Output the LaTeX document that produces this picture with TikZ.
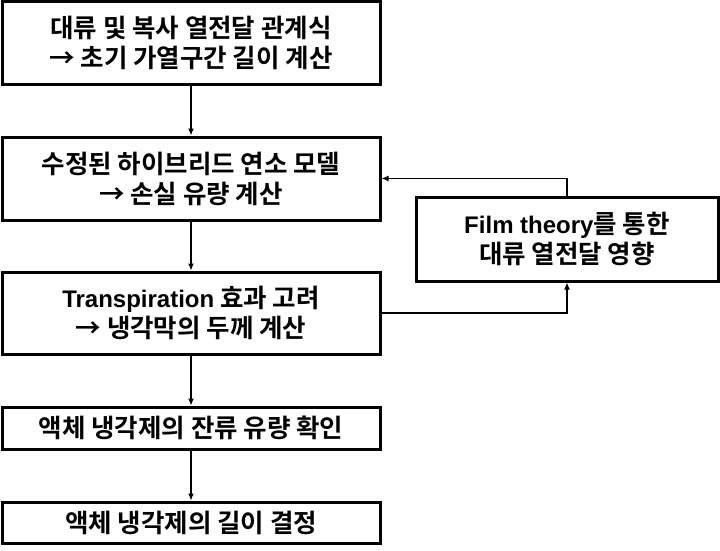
\documentclass[tikz,border=0pt]{standalone}
\usepackage{fontspec}
\setmainfont{Liberation Sans}
\newfontfamily\kr{Noto Sans CJK KR}[BoldFont=* Bold]
\newcommand{\lat}[1]{{\fontspec{Liberation Sans}\fontsize{24}{30}\selectfont\bfseries #1}}
\usetikzlibrary{arrows.meta,positioning}

\begin{document}
\begin{tikzpicture}[x=1pt,y=-1pt,
  procbox/.style={draw, line width=3pt, minimum width=378pt, align=center, inner sep=0pt,
    font=\fontsize{25.5}{30}\selectfont\bfseries\kr},
  flow/.style={-{Latex[length=7pt,width=6pt]}, line width=1.1pt}]
\useasboundingbox (0,0) rectangle (720,551);

\node[procbox, minimum height=82pt] (heat) at (191,43) {대류 및 복사 열전달 관계식\\→ 초기 가열구간 길이 계산};
\node[procbox, minimum height=83pt] (hybrid) at (191,178.5) {수정된 하이브리드 연소 모델\\→ 손실 유량 계산};
\node[procbox, minimum height=82pt] (transp) at (191,313) {\lat{Transpiration} 효과 고려\\→ 냉각막의 두께 계산};
\node[procbox, minimum height=42pt] (resid) at (191,428) {액체 냉각제의 잔류 유량 확인};
\node[procbox, minimum height=41pt] (length) at (191,522.5) {액체 냉각제의 길이 결정};
\node[procbox, minimum width=302pt, minimum height=84pt] (film) at (567,239) {\lat{Film theory}를 통한\\대류 열전달 영향};

\draw[flow] (heat) -- (hybrid);
\draw[flow] (hybrid) -- (transp);
\draw[flow] (transp) -- (resid);
\draw[flow] (resid) -- (length);
%feedback loop
\draw[flow] (transp.east) -| (film.south);
\draw[flow] (film.north) |- (hybrid.east);
\end{tikzpicture}
\end{document}
